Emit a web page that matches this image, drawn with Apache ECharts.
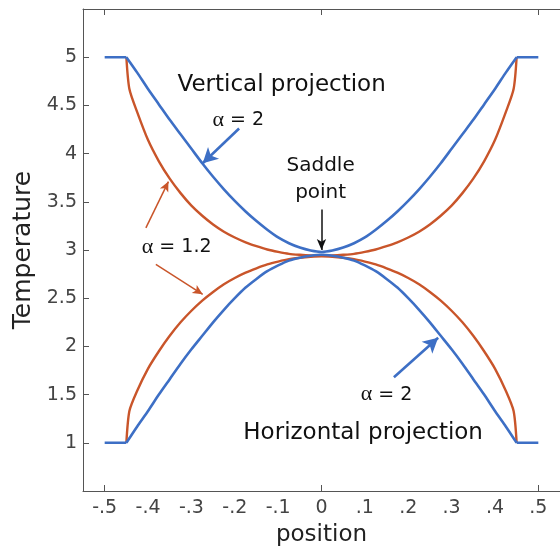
<!DOCTYPE html>
<html><head><meta charset="utf-8">
<script src="https://cdn.jsdelivr.net/npm/echarts@6/dist/echarts.min.js"></script>
<style>html,body{margin:0;padding:0;background:#fff}#c{width:560px;height:552px}</style>
</head><body><div id="c"></div>
<script>
// ---- data ----
const xBlue = [-0.45,-0.425,-0.4,-0.375,-0.35,-0.325,-0.3,-0.275,-0.25,-0.225,-0.2,-0.175,-0.15,-0.125,-0.1,-0.075,-0.05,-0.025,0,
  0.025,0.05,0.075,0.1,0.125,0.15,0.175,0.2,0.225,0.25,0.275,0.3,0.325,0.35,0.375,0.4,0.425,0.45];
const blueUpper = [5,4.84,4.67,4.51,4.35,4.20,4.05,3.90,3.76,3.63,3.51,3.40,3.30,3.21,3.13,3.07,3.025,2.995,2.98,
  2.995,3.025,3.07,3.13,3.21,3.30,3.40,3.51,3.63,3.76,3.90,4.05,4.20,4.35,4.51,4.67,4.84,5];
const blueLower = [1,1.17,1.33,1.50,1.66,1.82,1.97,2.11,2.25,2.38,2.50,2.61,2.70,2.78,2.84,2.89,2.92,2.94,2.95,
  2.94,2.92,2.89,2.84,2.78,2.70,2.61,2.50,2.38,2.25,2.11,1.97,1.82,1.66,1.50,1.33,1.17,1];
const xOrange = [-0.45,-0.443,-0.425,-0.4,-0.375,-0.35,-0.325,-0.3,-0.275,-0.25,-0.225,-0.2,-0.175,-0.15,-0.125,-0.1,-0.075,-0.05,-0.025,0,
  0.025,0.05,0.075,0.1,0.125,0.15,0.175,0.2,0.225,0.25,0.275,0.3,0.325,0.35,0.375,0.4,0.425,0.443,0.45];
const orangeUpper = [5,4.67,4.43,4.14,3.92,3.74,3.59,3.46,3.355,3.265,3.19,3.13,3.08,3.04,3.005,2.98,2.96,2.95,2.943,2.94,
  2.943,2.95,2.96,2.98,3.005,3.04,3.08,3.13,3.19,3.265,3.355,3.46,3.59,3.74,3.92,4.14,4.43,4.67,5];
const orangeLower = [1,1.33,1.54,1.77,1.95,2.11,2.25,2.37,2.475,2.565,2.645,2.71,2.765,2.81,2.85,2.88,2.905,2.92,2.93,2.935,
  2.93,2.92,2.905,2.88,2.85,2.81,2.765,2.71,2.645,2.565,2.475,2.37,2.25,2.11,1.95,1.77,1.54,1.33,1];
// flat end segments (outside the curves)
const flatLeftX = [-0.5,-0.45];
const flatRightX = [0.45,0.5];
const flatTop = [5,5];
const flatBottom = [1,1];

const xTickValues = [-0.5,-0.4,-0.3,-0.2,-0.1,0,0.1,0.2,0.3,0.4,0.5];
const xTickLabels = ['-.5','-.4','-.3','-.2','-.1','0','.1','.2','.3','.4','.5'];
const xTickMarks = [-0.5,0,0.5];
const yTickValues = [1,1.5,2,2.5,3,3.5,4,4.5,5];
const yTickLabels = ['1','1.5','2','2.5','3','3.5','4','4.5','5'];

// annotations (data coordinates)
const annoTexts = [
  {text:'Vertical projection', x:-0.092, y:4.71, size:23},
  {text:'{a|α} = 2', x:-0.192, y:4.35, size:19},
  {text:'Saddle\npoint', x:-0.002, y:3.73, size:20, lh:27},
  {text:'{a|α} = 1.2', x:-0.334, y:3.03, size:19},
  {text:'{a|α} = 2', x:0.15, y:1.5, size:19},
  {text:'Horizontal projection', x:0.096, y:1.1, size:23}
];
const blueArrows = [[[-0.19,4.26],[-0.274,3.90]], [[0.167,1.68],[0.269,2.09]]];
const orangeArrows = [[[-0.405,3.23],[-0.353,3.71]], [[-0.382,2.85],[-0.274,2.54]]];
const blackArrows = [[[0,3.42],[0,3.0]]];

const BLUE = '#3d6fc5', ORANGE = '#c9552a';
const FONT = 'DejaVu Sans';
function pairs(xs, ys){ return xs.map((x,i)=>[x, ys[i]]); }
function lookup(vals, labels, v){ for(let i=0;i<vals.length;i++){ if(Math.abs(vals[i]-v)<1e-6) return labels[i]; } return ''; }
function arrowLines(arr){ return arr.map(a=>[{coord:a[0]},{coord:a[1]}]); }
function curve(name, xs, ys, color, width, z){
  return {name, type:'line', data:pairs(xs,ys), showSymbol:false, symbol:'none', smooth:0.25,
    lineStyle:{color, width}, itemStyle:{color}, silent:true, z};
}
function flat(xs, ys){
  return {type:'line', data:pairs(xs,ys), showSymbol:false, symbol:'none',
    lineStyle:{color:BLUE, width:2.6}, itemStyle:{color:BLUE}, silent:true, z:3};
}

const chart = echarts.init(document.getElementById('c'), null, {renderer:'canvas'});
const axisColor = '#555';
chart.setOption({
  animation:false,
  grid:{left:83, right:-9, top:9, bottom:55, containLabel:false},
  xAxis:[{
    type:'value', min:-0.55, max:0.55, position:'bottom',
    axisLine:{show:true, onZero:false, lineStyle:{color:axisColor, width:1}},
    axisTick:{show:true, inside:true, length:6, customValues:xTickMarks, lineStyle:{color:axisColor}},
    axisLabel:{show:true, customValues:xTickValues, formatter:v=>lookup(xTickValues,xTickLabels,v),
      fontFamily:FONT, fontSize:19, color:'#444', margin:8},
    splitLine:{show:false},
    name:'position', nameLocation:'middle', nameGap:33,
    nameTextStyle:{fontFamily:FONT, fontSize:23, color:'#222'}
  },{
    type:'value', min:-0.55, max:0.55, position:'top',
    axisLine:{show:true, onZero:false, lineStyle:{color:axisColor, width:1}},
    axisTick:{show:true, inside:true, length:6, customValues:xTickMarks, lineStyle:{color:axisColor}},
    axisLabel:{show:false}, splitLine:{show:false}
  }],
  yAxis:{
    type:'value', min:0.5, max:5.5, interval:0.5,
    axisLine:{show:true, onZero:false, lineStyle:{color:axisColor, width:1}},
    axisTick:{show:true, inside:true, length:6, customValues:yTickValues, lineStyle:{color:axisColor}},
    axisLabel:{show:true, customValues:yTickValues, formatter:v=>lookup(yTickValues,yTickLabels,v),
      fontFamily:FONT, fontSize:19, color:'#444', margin:6},
    splitLine:{show:false},
    name:'Temperature', nameLocation:'middle', nameGap:45, nameRotate:90,
    nameTextStyle:{fontFamily:FONT, fontSize:25, color:'#222'}
  },
  series:[
    curve('orangeUpper', xOrange, orangeUpper, ORANGE, 2.4, 2),
    curve('orangeLower', xOrange, orangeLower, ORANGE, 2.4, 2),
    curve('blueUpper', xBlue, blueUpper, BLUE, 2.6, 3),
    curve('blueLower', xBlue, blueLower, BLUE, 2.6, 3),
    flat(flatLeftX, flatTop), flat(flatRightX, flatTop),
    flat(flatLeftX, flatBottom), flat(flatRightX, flatBottom),
    {type:'line', data:[], silent:true, z:4,
      markLine:{silent:true, animation:false, symbol:['none','arrow'], symbolSize:[12,15],
        label:{show:false}, lineStyle:{color:BLUE, width:2.6, type:'solid'}, data:arrowLines(blueArrows)}},
    {type:'line', data:[], silent:true, z:4,
      markLine:{silent:true, animation:false, symbol:['none','arrow'], symbolSize:[7,10],
        label:{show:false}, lineStyle:{color:ORANGE, width:1.5, type:'solid'}, data:arrowLines(orangeArrows)}},
    {type:'line', data:[], silent:true, z:4,
      markLine:{silent:true, animation:false, symbol:['none','arrow'], symbolSize:[7,11],
        label:{show:false}, lineStyle:{color:'#111', width:1.5, type:'solid'}, data:arrowLines(blackArrows)}}
  ]
});

const graphics = annoTexts.map(t=>{
  const p = chart.convertToPixel({xAxisIndex:0, yAxisIndex:0}, [t.x, t.y]);
  return {type:'text', x:p[0], y:p[1], z:100, silent:true,
    style:{text:t.text, fontFamily:FONT, fontSize:t.size, fill:'#111', align:'center', verticalAlign:'middle',
      lineHeight:t.lh || Math.round(t.size*1.2),
      rich:{a:{fontFamily:'Liberation Serif', fontSize:t.size+3, fill:'#111'}}}};
});
chart.setOption({graphic:graphics});
</script></body></html>
